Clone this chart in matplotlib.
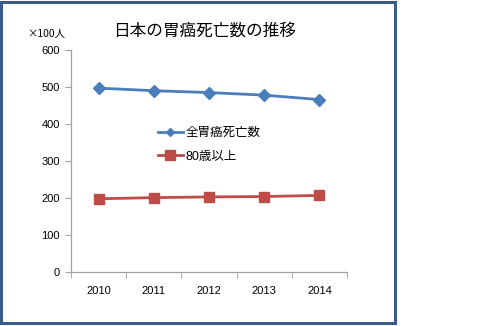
import matplotlib
matplotlib.use('Agg')
import matplotlib.pyplot as plt
from matplotlib.patches import Rectangle
from matplotlib.lines import Line2D

plt.rcParams['font.family'] = ['Liberation Sans', 'Noto Sans CJK JP']

# data (x100 people)
years = ['2010', '2011', '2012', '2013', '2014']
total = [497, 490, 485, 478, 466]
over80 = [198, 201, 203, 204, 207]
yticks = [0, 100, 200, 300, 400, 500, 600]

blue = '#4a7ebb'
red = '#be4b48'

fig = plt.figure(figsize=(4.8, 3.26), dpi=100)
ax = fig.add_axes([0.148, 0.1656, 0.575, 0.681])

x = range(len(years))
ax.plot(x, total, color=blue, lw=2, marker='D', ms=6.5, mec=blue, mfc=blue)
ax.plot(x, over80, color=red, lw=2, marker='s', ms=7.5, mec=red, mfc=red)

ax.set_xlim(-0.5, len(years) - 0.5)
ax.set_ylim(0, 600)
ax.set_yticks(yticks)
ax.set_xticks(list(x))
ax.set_xticklabels(years)
ax.set_xticks([i - 0.5 for i in range(len(years) + 1)], minor=True)
ax.tick_params(axis='x', which='major', length=0, pad=10, labelsize=8)
ax.tick_params(axis='x', which='minor', length=4, color='#a0a0a0', direction='out')
ax.tick_params(axis='y', length=4, color='#a0a0a0', labelsize=8, pad=4)

for side in ['top', 'right']:
    ax.spines[side].set_visible(False)
for side in ['left', 'bottom']:
    ax.spines[side].set_color('#a0a0a0')
    ax.spines[side].set_linewidth(0.9)

fig.text(0.427, 0.905, '日本の胃癌死亡数の推移',
         family=['Noto Sans CJK JP'], ha='center', va='center', fontsize=12)
fig.text(0.097, 0.897, '×100人', family=['Noto Sans CJK JP'],
         ha='center', va='center', fontsize=7.5)

handles = [
    Line2D([], [], color=blue, lw=2, marker='D', ms=4, mec=blue, mfc=blue),
    Line2D([], [], color=red, lw=2, marker='s', ms=6.5, mec=red, mfc=red),
]
fig.legend(handles, ['全胃癌死亡数', '80歳以上'], loc='upper left',
           bbox_to_anchor=(0.305, 0.645), frameon=False, fontsize=9,
           handlelength=2.0, handletextpad=0.2, labelspacing=0.95)

fig.patches.append(Rectangle((0.003, 0.01), 0.82, 0.985, transform=fig.transFigure,
                             fill=False, ec='#3b5c8a', lw=2.2))

fig.savefig('out.png', dpi=100)
